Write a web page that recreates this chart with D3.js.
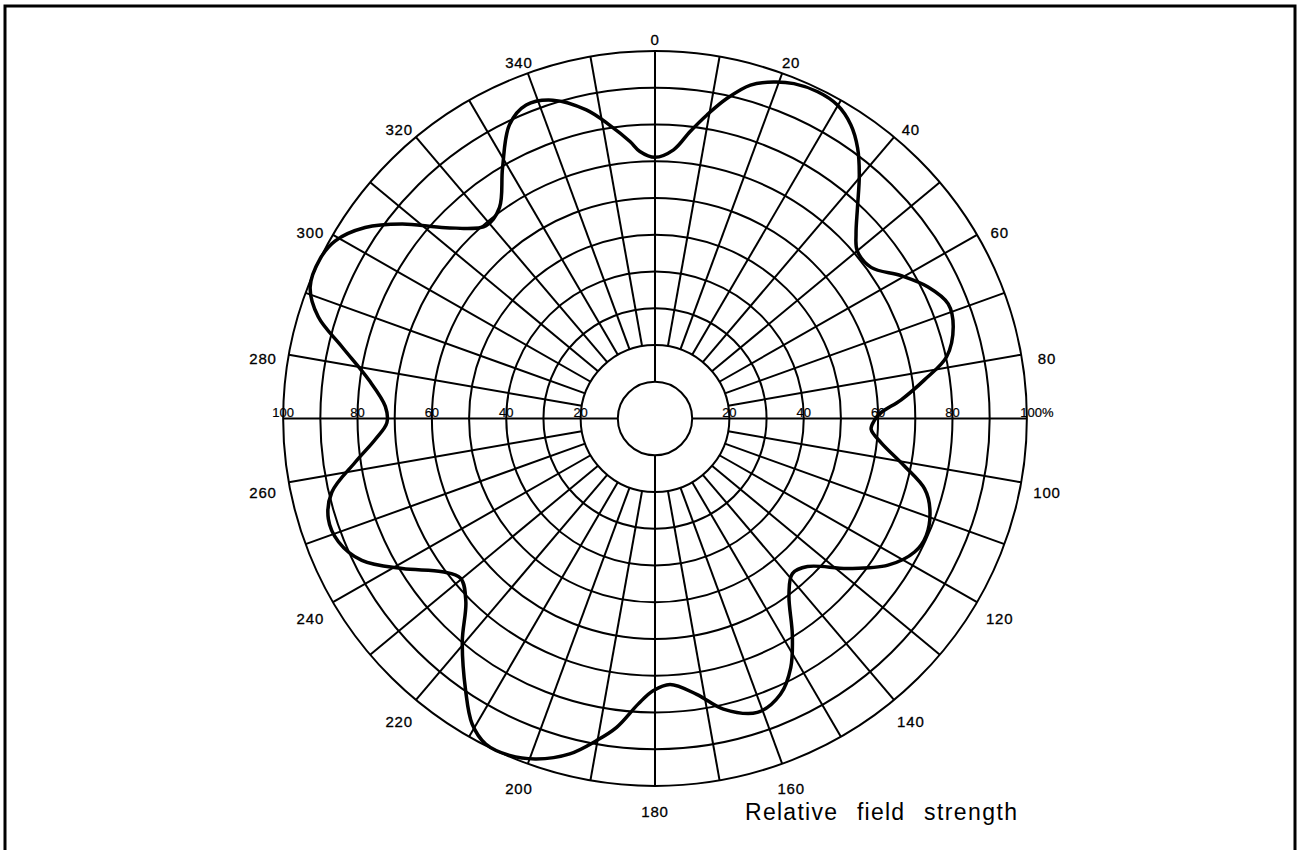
<!DOCTYPE html>
<html>
<head>
<meta charset="utf-8">
<script src="https://cdn.jsdelivr.net/npm/d3@7"></script>
<style>
  html, body { margin: 0; padding: 0; background: #fff; }
  text { font-family: "Liberation Sans", Arial, sans-serif; fill: #000; }
</style>
</head>
<body>
<script>
// measured pattern: angle in degrees (clockwise from 0 at top), relative field strength in %
var patternAngles = [0, 3.9, 6.9, 9.6, 12.5, 15.8, 19.2, 22.3, 26.2, 29.9, 33.4, 36.5, 39.6, 43.5, 47.1, 50.0,
	54.7, 59.6, 64.0, 68.4, 72.7, 77.9, 81.7, 85.6, 88.5, 90.5, 92.9, 96.2, 100.9, 104.8, 108.4, 113.6,
	117.5, 122.5, 128.2, 134.5, 138.8, 143.1, 147.9, 151.7, 155.8, 161.0, 166.9, 171.5, 176.8, 180.4,
	183.3, 187.0, 190.2, 194.1, 199.0, 203.1, 207.2, 210.6, 214.5, 220.5, 225.6, 230.2, 233.9, 239.0,
	243.9, 248.5, 252.7, 257.0, 261.6, 265.7, 269.1, 272.6, 277.8, 283.1, 287.0, 291.1, 295.8, 299.3,
	303.7, 307.9, 312.7, 319.1, 323.9, 329.0, 333.9, 337.9, 342.4, 347.6, 351.3, 354.9, 356.8];
var patternValues = [71.1, 73.3, 78.7, 83.8, 89.2, 94.3, 97.0, 98.5, 99.1, 98.4, 95.7, 91.6, 86.2, 79.1, 73.8, 71.0,
	71.2, 76.8, 81.7, 84.8, 84.0, 80.2, 73.3, 66.4, 60.8, 59.0, 58.2, 61.2, 68.3, 75.0, 77.9, 79.6,
	78.7, 74.3, 66.0, 57.5, 56.1, 60.0, 69.5, 77.0, 82.3, 84.6, 81.2, 75.9, 72.5, 74.1,
	77.8, 84.7, 89.1, 94.1, 98.0, 99.7, 99.6, 96.6, 89.9, 79.8, 71.2, 68.0, 70.8, 79.3,
	87.8, 91.5, 92.0, 89.2, 81.5, 75.4, 72.1, 72.6, 77.7, 86.5, 94.7, 99.4, 100.0, 98.7,
	93.7, 86.2, 76.6, 69.4, 71.0, 79.6, 89.0, 92.1, 90.9, 86.0, 80.8, 75.7, 72.8];

var ringValues = [10, 20, 30, 40, 50, 60, 70, 80, 90, 100];
var spokeAngles = d3.range(0, 360, 10);
var angleLabels = d3.range(0, 360, 20);
var ringLabelsLeft = ["20", "40", "60", "80", "100"];
var ringLabelsRight = ["20", "40", "60", "80", "100%"];
var ringLabelValues = [20, 40, 60, 80, 100];
var axisTitle = ["Relative", "field", "strength"];

var width = 1298, height = 850;
var cx = 655, cy = 418.5, R = 370;

var svg = d3.select("body").append("svg")
	.attr("width", width)
	.attr("height", height);

svg.append("rect").attr("width", width).attr("height", height).attr("fill", "#fff");

// frame (bottom edge is cut off in the scan)
svg.append("path")
	.attr("d", "M5,853V6H1295V853")
	.attr("fill", "none")
	.attr("stroke", "#000")
	.attr("stroke-width", 3);

var r = d3.scaleLinear().domain([0, 100]).range([0, R]);
var rad = function(a){ return a * Math.PI / 180; };

// the scanned plot is a touch wider than tall
var g = svg.append("g")
	.attr("transform", "translate(" + cx + "," + cy + ") scale(1.005,0.993)");

var grid = g.append("g")
	.attr("fill", "none")
	.attr("stroke", "#000")
	.attr("stroke-width", 2);

grid.selectAll("circle.ring")
	.data(ringValues)
	.enter()
	.append("circle")
	.attr("class", "ring")
	.attr("r", function(d){ return r(d); });

grid.selectAll("line.spoke")
	.data(spokeAngles)
	.enter()
	.append("line")
	.attr("class", "spoke")
	.attr("x1", function(d){ var r0 = d % 90 == 0 ? 10 : 20; return r(r0) * Math.sin(rad(d)); })
	.attr("y1", function(d){ var r0 = d % 90 == 0 ? 10 : 20; return -r(r0) * Math.cos(rad(d)); })
	.attr("x2", function(d){ return r(100) * Math.sin(rad(d)); })
	.attr("y2", function(d){ return -r(100) * Math.cos(rad(d)); });

var line = d3.lineRadial()
	.angle(function(d){ return rad(d[0]); })
	.radius(function(d){ return r(d[1]); })
	.curve(d3.curveCatmullRomClosed.alpha(0.5));

var pts = patternAngles.map(function(a, i){ return [a, patternValues[i]]; });

g.append("path")
	.datum(pts)
	.attr("d", line)
	.attr("fill", "none")
	.attr("stroke", "#000")
	.attr("stroke-width", 3.5)
	.attr("stroke-linejoin", "round");

// angle labels round the outside
svg.selectAll("text.angle")
	.data(angleLabels)
	.enter()
	.append("text")
	.attr("class", "angle")
	.attr("x", function(d){ return cx + 398 * Math.sin(rad(d)); })
	.attr("y", function(d){ return cy + 7 - 386 * Math.cos(rad(d)); })
	.attr("text-anchor", "middle")
	.attr("dominant-baseline", "central")
	.attr("font-size", 15)
	.attr("letter-spacing", 0.8)
	.attr("stroke", "#000")
	.attr("stroke-width", 0.3)
	.text(function(d){ return d; });

// ring labels on the horizontal axis
svg.selectAll("text.ringL")
	.data(ringLabelsLeft)
	.enter()
	.append("text")
	.attr("class", "ringL")
	.attr("x", function(d, i){ return cx - r(ringLabelValues[i]) * 1.005; })
	.attr("y", cy - 1.5)
	.attr("text-anchor", "middle")
	.attr("font-size", 13)
	.attr("stroke", "#000")
	.attr("stroke-width", 0.2)
	.text(function(d){ return d; });

svg.selectAll("text.ringR")
	.data(ringLabelsRight)
	.enter()
	.append("text")
	.attr("class", "ringR")
	.attr("x", function(d, i){ return cx + r(ringLabelValues[i]) * 1.005 + (i == 4 ? 10 : 0); })
	.attr("y", cy - 1.5)
	.attr("text-anchor", "middle")
	.attr("font-size", 13)
	.attr("stroke", "#000")
	.attr("stroke-width", 0.2)
	.text(function(d){ return d; });

// caption
var titleX = [745, 857, 924];
var titleW = [92, 47, 93];
svg.selectAll("text.title")
	.data(axisTitle)
	.enter()
	.append("text")
	.attr("class", "title")
	.attr("x", function(d, i){ return titleX[i]; })
	.attr("y", 820)
	.attr("font-size", 23)
	.attr("textLength", function(d, i){ return titleW[i]; })
	.attr("lengthAdjust", "spacing")
	.text(function(d){ return d; });
</script>
</body>
</html>
